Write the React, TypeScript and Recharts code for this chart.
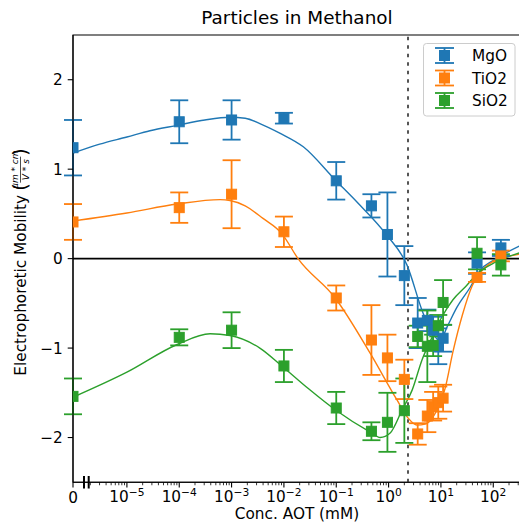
import React from 'react';
import {
  ComposedChart,
  Scatter,
  Line,
  XAxis,
  YAxis,
  ErrorBar,
  ReferenceLine,
  ReferenceArea,
  Legend,
} from 'recharts';

const FONT = '"DejaVu Sans", "Liberation Sans", sans-serif';

const seriesNames = ['MgO', 'TiO2', 'SiO2'];
const seriesColors = ['#1f77b4', '#ff7f0e', '#2ca02c'];

// AOT concentration (mM); 0 = no AOT
const conc = [0, 1e-4, 1e-3, 1e-2, 0.1, 0.47, 0.95, 2.0, 3.6, 5.5, 7.1, 8.9, 11, 49, 140];

const mgoMob = [1.24, 1.53, 1.55, 1.57, 0.87, 0.59, 0.27, -0.19, -0.72, -0.69, -0.8, -0.98, -0.89, -0.05, 0.12];
const mgoErr = [0.31, 0.24, 0.22, 0.06, 0.21, 0.13, 0.47, 0.33, 0.28, 0.12, 0.15, 0.2, 0.15, 0.12, 0.09];

const tio2Mob = [0.41, 0.57, 0.72, 0.3, -0.44, -0.91, -1.11, -1.35, -1.96, -1.76, -1.65, -1.61, -1.56, -0.21, 0.03];
const tio2Err = [0.2, 0.17, 0.38, 0.17, 0.14, 0.39, 0.26, 0.22, 0.12, 0.18, 0.16, 0.18, 0.15, 0.05, 0.06];

const sio2Mob = [-1.54, -0.88, -0.8, -1.2, -1.67, -1.93, -1.83, -1.7, -0.87, -0.98, -0.97, -0.75, -0.49, 0.06, -0.07];
const sio2Err = [0.2, 0.09, 0.2, 0.18, 0.18, 0.1, 0.33, 0.36, 0.12, 0.4, 0.12, 0.12, 0.25, 0.18, 0.12];

// fitted curves: x = log10(conc), first point is the "0" position
const mgoFitX = [-6.03, -5.52, -5.0, -4.56, -4.04, -3.51, -3.03, -2.74, -2.46, -2.07, -1.63, -1.02, -0.6, -0.03, 0.35, 0.66, 0.83, 0.98, 1.12, 1.31, 1.56, 1.75, 2.0, 2.53];
const mgoFitY = [1.18, 1.28, 1.36, 1.43, 1.49, 1.55, 1.58, 1.57, 1.51, 1.4, 1.25, 0.88, 0.63, 0.26, -0.07, -0.61, -0.82, -0.92, -0.76, -0.54, -0.32, -0.13, -0.02, 0.15];

const tio2FitX = [-6.03, -5.0, -4.04, -3.22, -3.03, -2.74, -2.4, -2.04, -1.73, -1.02, -0.35, 0.16, 0.37, 0.54, 0.7, 0.89, 1.08, 1.23, 1.41, 1.6, 1.79, 2.04, 2.53];
const tio2FitY = [0.42, 0.51, 0.61, 0.66, 0.65, 0.59, 0.45, 0.28, 0.0, -0.44, -1.06, -1.58, -1.78, -1.86, -1.85, -1.73, -1.45, -1.04, -0.63, -0.3, -0.13, -0.02, 0.05];

const sio2FitX = [-6.03, -5.0, -4.04, -3.41, -3.03, -2.46, -2.04, -1.54, -1.02, -0.35, -0.16, 0.03, 0.26, 0.45, 0.64, 0.83, 1.02, 1.23, 1.46, 1.71, 2.04, 2.53];
const sio2FitY = [-1.55, -1.27, -0.96, -0.84, -0.86, -1.0, -1.2, -1.45, -1.69, -1.94, -2.0, -1.95, -1.69, -1.47, -1.13, -0.88, -0.65, -0.46, -0.32, -0.16, -0.04, 0.07];

const CMC = 2.35; // dashed vertical line (mM)
const ZERO_POS = -6.03; // axis position used for conc = 0
const X_MAX = 2.53;
const majorTicks = [ZERO_POS, -5, -4, -3, -2, -1, 0, 1, 2];
const majorExp = ['', '−5', '−4', '−3', '−2', '−1', '0', '1', '2'];
const yTicks = [-2, -1, 0, 1, 2];

const minorTicks: number[] = [];
for (let d = -6; d <= 2; d++) {
  for (let k = 2; k <= 9; k++) {
    const v = d + Math.log10(k);
    if (v > ZERO_POS && v < X_MAX) minorTicks.push(v);
  }
}
const allTicks = [...majorTicks, ...minorTicks].sort((a, b) => a - b);

const toPoints = (mob: number[], err: number[]) =>
  conc.map((c, i) => ({ x: c === 0 ? ZERO_POS : Math.log10(c), y: mob[i], err: err[i] }));
const toFit = (xs: number[], ys: number[]) => xs.map((x, i) => ({ x, y: ys[i] }));

const pointSets = [toPoints(mgoMob, mgoErr), toPoints(tio2Mob, tio2Err), toPoints(sio2Mob, sio2Err)];
const fitSets = [toFit(mgoFitX, mgoFitY), toFit(tio2FitX, tio2FitY), toFit(sio2FitX, sio2FitY)];

const W = 523;
const H = 527;
const Y_AXIS_W = 73;
const X_AXIS_H = 44.75;
const M = { top: 35, right: 2, bottom: 0, left: 0 };
const PLOT_CY = M.top + (H - M.top - X_AXIS_H) / 2;
const PLOT_CX = Y_AXIS_W + (W - Y_AXIS_W - M.right) / 2;

const makeSquare = (color: string) => (props: any) => {
  const { cx, cy } = props;
  if (cx == null || cy == null) return <g />;
  return <rect x={cx - 5} y={cy - 5} width={10} height={10} fill={color} stroke={color} strokeWidth={1} />;
};

const XTick = (props: any) => {
  const { x, y, payload } = props;
  const v = payload.value;
  const idx = majorTicks.findIndex((t) => Math.abs(t - v) < 1e-9);
  const major = idx >= 0;
  return (
    <g>
      <line x1={x} x2={x} y1={y} y2={y + (major ? 5.3 : 3)} stroke="#000" strokeWidth={major ? 1.1 : 0.8} />
      {major && idx === 0 && (
        <text x={x} y={y + 20.5} textAnchor="middle" fontSize={15.3} fontFamily={FONT} fill="#000">
          0
        </text>
      )}
      {major && idx > 0 && (
        <text x={x} y={y + 20} textAnchor="middle" fontSize={15.3} fontFamily={FONT} fill="#000">
          10
          <tspan dy={-6.5} fontSize={10.7}>
            {majorExp[idx]}
          </tspan>
        </text>
      )}
    </g>
  );
};

const YLabel = () => {
  const cx = 26;
  const cy = PLOT_CY;
  return (
    <g transform={`translate(${cx},${cy}) rotate(-90)`} fontFamily={FONT} fill="#000">
      <text x={-117} y={0} fontSize={15.3}>
        Electrophoretic Mobility
      </text>
      <text x={68} y={1} fontSize={19}>
        (
      </text>
      <text x={89} y={-8.5} fontSize={9} fontStyle="italic" textAnchor="middle">
        μm * cm
      </text>
      <line x1={76} x2={102} y1={-5.5} y2={-5.5} stroke="#000" strokeWidth={0.7} />
      <text x={89} y={3} fontSize={9} fontStyle="italic" textAnchor="middle">
        V * s
      </text>
      <text x={103} y={1} fontSize={19}>
        )
      </text>
    </g>
  );
};

const XLabel = () => (
  <text x={PLOT_CX} y={519} textAnchor="middle" fontSize={15.3} fontFamily={FONT} fill="#000">
    Conc. AOT (mM)
  </text>
);

const LegendBox = () => (
  <svg width={93} height={74} style={{ display: 'block', overflow: 'visible' }}>
    <rect x={0.5} y={0.5} width={91.5} height={72.5} rx={3} fill="rgba(255,255,255,0.8)" stroke="#cccccc" strokeWidth={1} />
    {seriesNames.map((name, i) => {
      const cy = 12.5 + i * 22.5;
      const cx = 21.5;
      const c = seriesColors[i];
      return (
        <g key={name}>
          <line x1={cx} x2={cx} y1={cy - 7.5} y2={cy + 7.5} stroke={c} strokeWidth={1.8} />
          <line x1={cx - 9.5} x2={cx + 9.5} y1={cy - 7.5} y2={cy - 7.5} stroke={c} strokeWidth={1.8} />
          <line x1={cx - 9.5} x2={cx + 9.5} y1={cy + 7.5} y2={cy + 7.5} stroke={c} strokeWidth={1.8} />
          <rect x={cx - 5} y={cy - 5} width={10} height={10} fill={c} stroke={c} strokeWidth={1} />
          <text x={49} y={cy + 5.5} fontSize={15.3} fontFamily={FONT} fill="#000">
            {name}
          </text>
        </g>
      );
    })}
  </svg>
);

export default function App() {
  return (
    <div
      style={{
        position: 'absolute',
        left: 0,
        top: 0,
        width: 519,
        height: 527,
        overflow: 'hidden',
        background: '#fff',
        fontFamily: FONT,
      }}
    >
      <svg width={519} height={32} style={{ position: 'absolute', left: 0, top: 0 }}>
        <text x={297} y={24} textAnchor="middle" fontSize={18.4} fontFamily={FONT} fill="#000">
          Particles in Methanol
        </text>
      </svg>
      <div style={{ position: 'absolute', left: 0, top: 0 }}>
        <ComposedChart width={W} height={H} margin={M}>
          <XAxis
            type="number"
            dataKey="x"
            domain={[ZERO_POS, X_MAX]}
            allowDataOverflow
            ticks={allTicks}
            interval={0}
            tick={<XTick />}
            tickLine={false}
            tickSize={0}
            tickMargin={0}
            height={X_AXIS_H}
            axisLine={{ stroke: '#000', strokeWidth: 1.1 }}
            label={<XLabel />}
          />
          <YAxis
            type="number"
            dataKey="y"
            domain={[-2.5, 2.5]}
            allowDataOverflow
            ticks={yTicks}
            interval={0}
            width={Y_AXIS_W}
            tickSize={5.3}
            tickMargin={5}
            tickLine={{ stroke: '#000', strokeWidth: 1.1 }}
            axisLine={{ stroke: '#000', strokeWidth: 1.1 }}
            tick={{ fill: '#000', fontSize: 15.3, fontFamily: FONT }}
            tickFormatter={(v: number) => (v < 0 ? '−' + Math.abs(v) : String(v))}
            label={<YLabel />}
          />
          <ReferenceArea
            x1={ZERO_POS}
            x2={X_MAX}
            y1={-2.5}
            y2={2.5}
            fill="none"
            fillOpacity={0}
            stroke="#000"
            strokeWidth={1.1}
            ifOverflow="visible"
          />
          <ReferenceLine y={0} stroke="#000" strokeWidth={1.6} />
          <ReferenceLine x={Math.log10(CMC)} stroke="#555" strokeWidth={2} strokeDasharray="3.5 5" />
          {fitSets.map((d, i) => (
            <Line
              key={'fit' + i}
              data={d}
              dataKey="y"
              type="monotone"
              stroke={seriesColors[i]}
              strokeWidth={1.4}
              dot={false}
              activeDot={false}
              legendType="none"
              isAnimationActive={false}
            />
          ))}
          {pointSets.map((d, i) => (
            <Scatter
              key={'pts' + i}
              name={seriesNames[i]}
              data={d}
              dataKey="y"
              fill={seriesColors[i]}
              shape={makeSquare(seriesColors[i])}
              isAnimationActive={false}
            >
              <ErrorBar dataKey="err" direction="y" width={9} stroke={seriesColors[i]} strokeWidth={1.8} />
            </Scatter>
          ))}
          <ReferenceLine
            segment={[
              { x: -5.82, y: -2.43 },
              { x: -5.82, y: -2.57 },
            ]}
            stroke="#000"
            strokeWidth={2}
            ifOverflow="visible"
          />
          <ReferenceLine
            segment={[
              { x: -5.73, y: -2.43 },
              { x: -5.73, y: -2.57 },
            ]}
            stroke="#000"
            strokeWidth={2}
            ifOverflow="visible"
          />
          <Legend
            layout="vertical"
            align="center"
            verticalAlign="middle"
            content={<LegendBox />}
            wrapperStyle={{ left: 423, top: 43, width: 93, height: 74 }}
          />
        </ComposedChart>
      </div>
    </div>
  );
}
